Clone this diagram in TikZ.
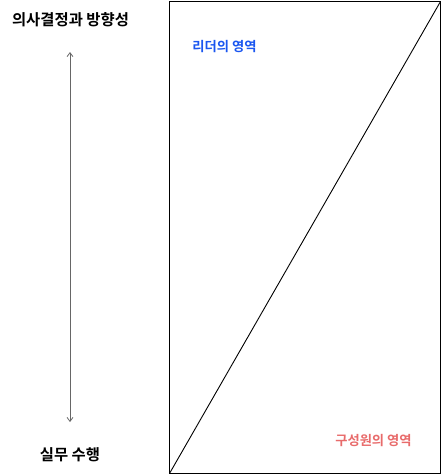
\documentclass[tikz,border=0pt]{standalone}
\usepackage{fontspec}
\newfontfamily\kr{Noto Sans CJK KR}[BoldFont={Noto Sans CJK KR Bold}]
\usetikzlibrary{arrows.meta}
\definecolor{leaderblue}{HTML}{1A56F0}
\definecolor{memberred}{HTML}{E86B6B}
\definecolor{arrowgrey}{HTML}{666666}
\tikzset{
  axislabel/.style={font=\kr\bfseries\fontsize{15.4}{17}\selectfont, text=black, inner sep=0pt},
  arealabel/.style={font=\kr\bfseries\fontsize{13.3}{15}\selectfont, inner sep=0pt},
  axisarrow/.style={draw=arrowgrey, line width=0.8pt, {Straight Barb[length=4pt,width=6pt]}-{Straight Barb[length=4pt,width=6pt]}},
  frame/.style={draw=black, line width=1pt}
}
\begin{document}
\begin{tikzpicture}[x=1pt,y=-1pt]
\useasboundingbox (0,0) rectangle (442,475);
\node[axislabel] (top) at (70.5,20) {의사결정과 방향성};
\node[axislabel] (bottom) at (70,455) {실무 수행};
\coordinate (atop) at (70,52);
\coordinate (abot) at (70,422);
\draw[axisarrow] (abot) -- (atop);
\coordinate (bl) at (169.5,473.5);
\coordinate (tr) at (440.5,1.5);
\draw[frame] (bl) rectangle (tr);
\draw[frame, line width=0.9pt] (bl) -- (tr);
\node[arealabel, text=leaderblue] (leader) at (224.5,47) {리더의 영역};
\node[arealabel, text=memberred] (member) at (373.5,441) {구성원의 영역};
\end{tikzpicture}
\end{document}
